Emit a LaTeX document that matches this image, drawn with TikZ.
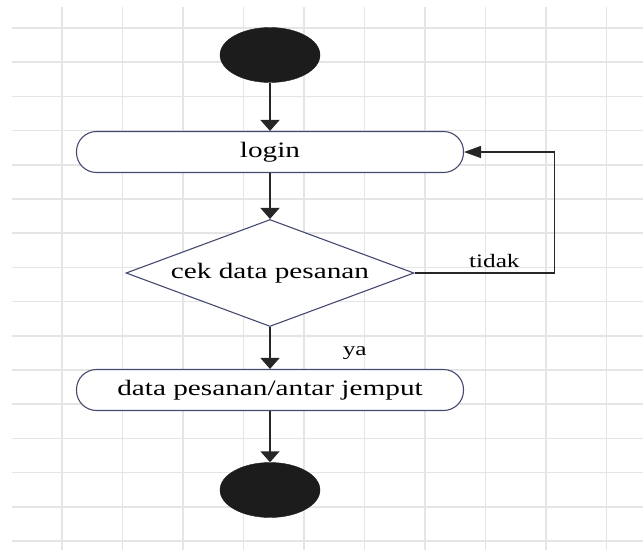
\documentclass[tikz,border=0pt]{standalone}
\usepackage{fontspec}
\setmainfont{Liberation Serif}[FakeStretch=1.33]
\usetikzlibrary{shapes.geometric,arrows.meta}

\definecolor{edgeblue}{HTML}{454A70}
\definecolor{inkblack}{HTML}{1C1C1C}

\tikzset{
  grid line/.style={draw=gray!20, line width=1.5pt},
  state/.style={ellipse, fill=inkblack, draw=inkblack, minimum width=100pt, minimum height=55pt},
  action/.style={rectangle, rounded corners=20pt, draw=edgeblue, line width=1.1pt, fill=white,
    minimum width=387pt, minimum height=41pt, font=\fontsize{22}{26}\selectfont},
  decision/.style={diamond, aspect=2.7, inner sep=0pt, draw=edgeblue, line width=1.1pt, fill=white,
    minimum width=288pt, minimum height=107pt, font=\fontsize{22}{26}\selectfont},
  flow/.style={draw=black!85, line width=1.5pt, -{Triangle[length=11pt,width=19pt]}},
  lbl/.style={font=\fontsize{19}{22}\selectfont, inner sep=0pt}
}

\begin{document}
\begin{tikzpicture}[x=1pt,y=-1pt]
  \useasboundingbox (0,0) rectangle (643,550);
  % background grid
  \foreach \gx in {0,...,9}
    \draw[grid line] ({62+60.5*\gx},7) -- ({62+60.5*\gx},550);
  \foreach \gy in {0,...,15}
    \draw[grid line] (12,{28+34.2*\gy}) -- (643,{28+34.2*\gy});

  \node[state] (start) at (270,55) {};
  \node[action] (login) at (270,152) {login};
  \node[decision] (cek) at (270,273) {cek data pesanan};
  \node[action] (data) at (270,390) {data pesanan/antar jemput};
  \node[state] (stop) at (270,490) {};

  \draw[flow] (start) -- (login);
  \draw[flow] (login) -- (cek);
  \draw[flow] (cek) -- node[lbl, pos=0.62, right=72pt] {ya} (data);
  \draw[flow] (data) -- (stop);
  % back to login
  \draw[flow, -{Triangle[length=17pt,width=12pt]}] (cek.east) -- node[lbl, pos=0.57, above=5pt] {tidak} ++(140,0) |- (login.east);
\end{tikzpicture}
\end{document}
